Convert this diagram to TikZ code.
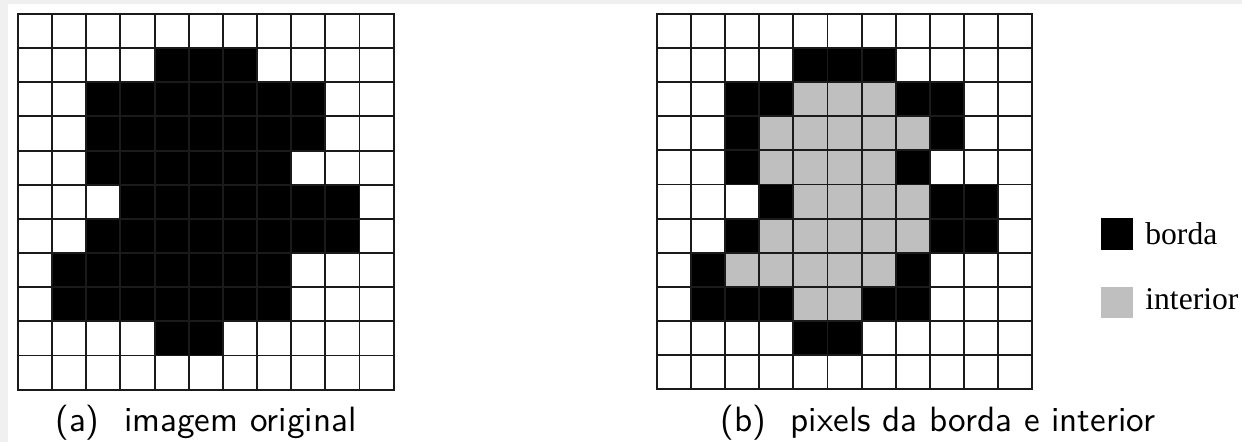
\documentclass[tikz,border=0pt]{standalone}
\usepackage{fontspec}
\newfontfamily\legendfont{Liberation Serif}
\newfontfamily\captionfont{lmsans10-regular}[Extension=.otf]
\definecolor{pagegray}{HTML}{F0F0F0}
\definecolor{innergray}{HTML}{BFBFBF}
\definecolor{gridgray}{HTML}{1A1A1A}

\begin{document}
\begin{tikzpicture}[x=0.02cm, y=-0.02cm,
  cellline/.style={draw=gridgray, line width=1.1pt, line cap=rect},
  caption/.style={anchor=base, inner sep=0pt, font=\captionfont\fontsize{20}{24}\selectfont},
  legendkey/.style={minimum size=0.64cm, inner sep=0pt},
  legendtext/.style={anchor=base west, inner sep=0pt, font=\legendfont\fontsize{18}{21}\selectfont}]
\useasboundingbox (0,0) rectangle (1242,442);
\fill[pagegray] (0,0) rectangle (1242,442);
\fill[white] (8,4) rectangle (1242,442);

% (a) original image
\begin{scope}[shift={(18,14)}, scale=34.15]
\foreach \r/\cs in {1/{4,5,6}, 2/{2,...,8}, 3/{2,...,8}, 4/{2,...,7}, 5/{3,...,9}, 6/{2,...,9}, 7/{1,...,7}, 8/{1,...,7}, 9/{4,5}}
  \foreach \c in \cs
    \fill[black] (\c,\r) rectangle ++(1,1);
\foreach \i in {0,...,11} {
  \draw[cellline] (\i,0) -- (\i,11);
  \draw[cellline] (0,\i) -- (11,\i);
}
\end{scope}

% (b) border and interior pixels
\begin{scope}[shift={(657,14)}, scale=34.1]
\foreach \r/\cs in {1/{4,5,6}, 2/{2,3,7,8}, 3/{2,8}, 4/{2,7}, 5/{3,8,9}, 6/{2,8,9}, 7/{1,7}, 8/{1,2,3,6,7}, 9/{4,5}}
  \foreach \c in \cs
    \fill[black] (\c,\r) rectangle ++(1,1);
\foreach \r/\cs in {2/{4,5,6}, 3/{3,...,7}, 4/{3,...,6}, 5/{4,...,7}, 6/{3,...,7}, 7/{2,...,6}, 8/{4,5}}
  \foreach \c in \cs
    \fill[innergray] (\c,\r) rectangle ++(1,1);
\foreach \i in {0,...,11} {
  \draw[cellline] (\i,0) -- (\i,11);
  \draw[cellline] (0,\i) -- (11,\i);
}
\end{scope}

% legend
\node[legendkey, fill=black] (keyborda) at (1117,234) {};
\node[legendkey, fill=innergray] (keyinterior) at (1117,302.5) {};
\node[legendtext] (txtborda) at (1145,245) {borda};
\node[legendtext] (txtinterior) at (1145,310) {interior};

% captions
\node[caption] (capa) at (206,432) {(a)\hspace{0.7em}imagem original};
\node[caption] (capb) at (938,432) {(b)\hspace{0.7em}pixels da borda e interior};
\end{tikzpicture}
\end{document}
